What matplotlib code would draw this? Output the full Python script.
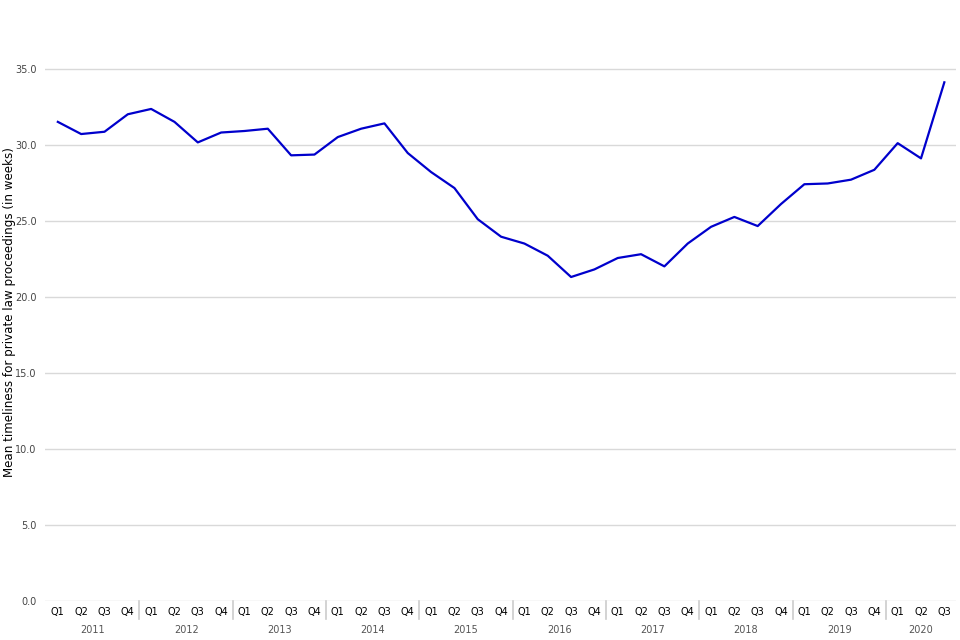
import matplotlib
matplotlib.use("Agg")
import matplotlib.pyplot as plt
from matplotlib.transforms import blended_transform_factory

years = ["2011", "2012", "2013", "2014", "2015", "2016", "2017", "2018", "2019", "2020"]
quarters = ["Q1", "Q2", "Q3", "Q4"]
values = [31.5, 30.7, 30.85, 32.0, 32.35, 31.5, 30.15, 30.8, 30.9, 31.05, 29.3, 29.35,
          30.5, 31.05, 31.4, 29.45, 28.2, 27.15, 25.1, 23.95, 23.5, 22.7, 21.3, 21.8,
          22.55, 22.8, 22.0, 23.5, 24.6, 25.25, 24.65, 26.1, 27.4, 27.45, 27.7, 28.35,
          30.1, 29.1, 34.1]

labels = []
year_of = []
for i in range(len(values)):
    labels.append(quarters[i % 4])
    year_of.append(years[i // 4])

fig = plt.figure(figsize=(9.6, 6.4), dpi=100)
ax = fig.add_axes([45/960, 39/640, 911/960, 578/640])

x = list(range(len(values)))
ax.plot(x, values, color="#0000CC", linewidth=1.6, zorder=3)

ax.set_xlim(-0.55, len(values) - 0.5)
ax.set_ylim(0, 38)
ax.set_yticks([0, 5, 10, 15, 20, 25, 30, 35])
ax.set_yticklabels([f"{v:.1f}" for v in [0, 5, 10, 15, 20, 25, 30, 35]])
ax.grid(axis="y", color="#d9d9d9", linewidth=1)
ax.set_axisbelow(True)
for s in ax.spines.values():
    s.set_visible(False)
ax.tick_params(axis="y", length=0, labelsize=7, labelcolor="#444444", pad=6)
ax.set_xticks(x)
ax.set_xticklabels(labels)
ax.tick_params(axis="x", length=0, labelsize=7, labelcolor="#000000", pad=4)

trans = blended_transform_factory(ax.transData, ax.transAxes)
n = len(values)
for yi, yr in enumerate(years):
    idx = [i for i in range(n) if year_of[i] == yr]
    c = (idx[0] + idx[-1]) / 2
    ax.text(c, -0.05, yr, transform=trans, ha="center", va="center",
            fontsize=7, color="#555555")
    if yi > 0:
        ax.plot([idx[0] - 0.5, idx[0] - 0.5], [0, -0.032], transform=trans,
                color="#cccccc", linewidth=1.2, clip_on=False)

ax.set_ylabel("Mean timeliness for private law proceedings (in weeks)", fontsize=8.6,
              va="center")
ax.yaxis.set_label_coords(-35/911, (601 - 312) / 578)

fig.savefig("out.png", dpi=100)
